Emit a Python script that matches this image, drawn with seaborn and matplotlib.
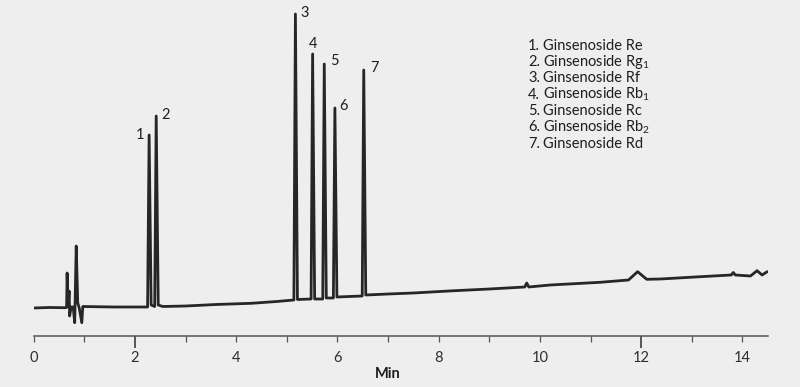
import numpy as np
import pandas as pd
import matplotlib
matplotlib.use('Agg')
import matplotlib.pyplot as plt
import matplotlib.transforms as mtransforms
import seaborn as sns

# chromatogram trace (time in min, response in arbitrary units)
time_min = [0.00, 0.30, 0.62, 0.65, 0.66, 0.68, 0.70, 0.71, 0.74, 0.78,
            0.81, 0.84, 0.87, 0.90, 0.95, 0.97, 1.20, 1.60, 2.00, 2.25,
            2.28, 2.32, 2.39, 2.42, 2.46, 2.55, 3.00, 3.60, 4.30, 4.80,
            5.14, 5.17, 5.21, 5.48, 5.51, 5.55, 5.71, 5.74, 5.78, 5.92,
            5.95, 5.99, 6.49, 6.52, 6.56, 7.00, 7.50, 8.20, 9.00, 9.70,
            9.74, 9.78, 10.20, 11.19, 11.75, 11.93, 12.11, 12.38, 13.17, 13.78,
            13.82, 13.86, 14.16, 14.29, 14.39, 14.49]
response = [0.0, 0.5, 0.3, 0.5, 35.0, 2.0, 17.0, -8.0, 1.0, 1.0,
            -14.7, 62.0, 5.0, 0.0, -14.7, 1.5, 1.3, 1.0, 1.0, 1.0,
            173.0, 3.0, 1.5, 192.0, 3.0, 1.5, 2.0, 3.5, 4.7, 6.5,
            8.0, 294.0, 8.5, 9.0, 254.0, 9.0, 9.0, 244.0, 10.0, 10.0,
            200.0, 11.0, 12.0, 238.0, 13.0, 14.0, 15.0, 17.0, 19.0, 21.0,
            25.0, 21.0, 23.0, 25.7, 28.0, 36.3, 28.7, 29.0, 31.3, 33.0,
            35.5, 33.0, 32.0, 37.3, 33.0, 36.3]

# labelled peaks
peak_ids = ['1', '2', '3', '4', '5', '6', '7']
peak_times = [2.28, 2.42, 5.17, 5.51, 5.74, 5.95, 6.52]
peak_heights = [173.0, 192.0, 294.0, 254.0, 244.0, 200.0, 238.0]
compounds = ['Ginsenoside Re', 'Ginsenoside Rg$_\\mathrm{1}$', 'Ginsenoside Rf',
             'Ginsenoside Rb$_\\mathrm{1}$', 'Ginsenoside Rc',
             'Ginsenoside Rb$_\\mathrm{2}$', 'Ginsenoside Rd']

df = pd.DataFrame({'Min': time_min, 'Response': response})

bg = '#eeeeee'
ink = '#262626'
txt = '#1e1e1e'
sns.set_theme(style='white', rc={'figure.facecolor': bg, 'axes.facecolor': bg})
plt.rcParams['font.family'] = ['Lato', 'DejaVu Sans']
plt.rcParams['mathtext.fontset'] = 'custom'
plt.rcParams['mathtext.rm'] = 'Lato'

fig = plt.figure(figsize=(8, 3.87), dpi=100)
ax = fig.add_axes([33.7 / 800, 51.3 / 387, 734 / 800, 335.7 / 387])

sns.lineplot(data=df, x='Min', y='Response', estimator=None, sort=False,
             color=ink, linewidth=2.0, ax=ax)

ax.set_xlim(0, 14.5)
ax.set_ylim(-27.7, 308)
ax.set_yticks([])
ax.set_ylabel('')
ax.set_xlabel('')
for s in ['top', 'right', 'left']:
    ax.spines[s].set_visible(False)
ax.spines['bottom'].set_color('#555555')
ax.spines['bottom'].set_linewidth(1.1)

ax.set_xticks(range(0, 15, 2))
ax.set_xticks(range(1, 15, 2), minor=True)
ax.tick_params(axis='x', which='both', bottom=True, direction='out', length=4.3,
               width=0.9, color='#555555', labelsize=10.5, labelcolor='#2e2e2e', pad=6.5)
for tick in ax.xaxis.get_major_ticks():
    if tick.get_loc() in (0, 10):
        tick.tick1line.set_markersize(8.6)
        tick.tick1line.set_markeredgewidth(1.4)

trans = mtransforms.blended_transform_factory(ax.transData, ax.transAxes)
ax.text(7.0, -38.3 / 335.7, 'Min', transform=trans, ha='center', va='center',
        fontsize=10.5, fontweight='bold', color=txt)

# peak numbers
offsets = [(-9, 0), (9, 1), (9, 1), (0, 10), (10, 3), (9, 2), (11, 2)]
for pid, t, h, (dx, dy) in zip(peak_ids, peak_times, peak_heights, offsets):
    ax.annotate(pid, (t, h), xytext=(dx, dy), textcoords='offset pixels',
                ha='center', va='center', fontsize=10.5, color=txt)

# compound list
for i, (pid, name) in enumerate(zip(peak_ids, compounds)):
    y = 1 - (45.7 + 16.3 * i) / 387
    fig.text(528 / 800, y, pid + '.', ha='left', va='center', fontsize=10.5, color=txt)
    fig.text(542.7 / 800, y, name, ha='left', va='center', fontsize=10.5, color=txt)

fig.savefig('out.png', dpi=100, facecolor=bg)
